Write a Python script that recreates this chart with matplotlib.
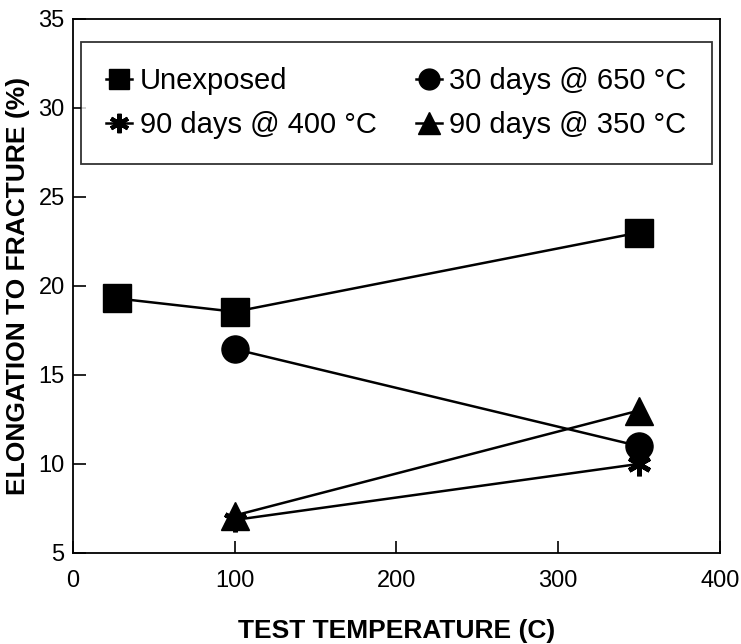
import matplotlib.pyplot as plt
from matplotlib.lines import Line2D

plt.rcParams['font.family'] = ['Liberation Sans', 'DejaVu Sans']

# data
temp_unexp = [27, 100, 350]
elong_unexp = [19.3, 18.55, 23.0]
temp_650 = [100, 350]
elong_650 = [16.45, 11.0]
temp_400 = [100, 350]
elong_400 = [6.85, 10.0]
temp_350 = [100, 350]
elong_350 = [7.1, 13.0]

x_ticks = [0, 100, 200, 300, 400]
y_ticks = [5, 10, 15, 20, 25, 30, 35]

labels = ['Unexposed', '30 days @ 650 °C', '90 days @ 400 °C', '90 days @ 350 °C']
star = (6, 2, 0)

fig = plt.figure(figsize=(7.41, 6.44), dpi=100)
ax = fig.add_axes([0.0985, 0.1415, 0.873, 0.829])

ax.plot(temp_unexp, elong_unexp, color='black', lw=1.8, marker='s', ms=19.5)
ax.plot(temp_650, elong_650, color='black', lw=1.8, marker='o', ms=19.5)
ax.plot(temp_400, elong_400, color='black', lw=1.8, marker=star, ms=17, mew=3.5)
ax.plot(temp_350, elong_350, color='black', lw=1.8, marker='^', ms=20)

ax.set_xlim(0, 400)
ax.set_ylim(5, 35)
ax.set_xticks(x_ticks)
ax.set_yticks(y_ticks)
ax.tick_params(direction='in', length=9, width=1.2, labelsize=17)
ax.tick_params(axis='x', pad=12)
ax.tick_params(axis='y', pad=6)
for s in ax.spines.values():
    s.set_linewidth(1.3)

ax.set_xlabel('TEST TEMPERATURE (C)', fontsize=19, fontweight='bold', labelpad=20)
ax.set_ylabel('ELONGATION TO FRACTURE (%)', fontsize=19, fontweight='bold', labelpad=6)

# legend proxies (smaller markers than the plot)
h1 = Line2D([], [], color='black', lw=1.8, marker='s', ms=15)
h2 = Line2D([], [], color='black', lw=1.8, marker='o', ms=15)
h3 = Line2D([], [], color='black', lw=1.8, marker=star, ms=14, mew=3)
h4 = Line2D([], [], color='black', lw=1.8, marker='^', ms=16)

leg = ax.legend(handles=[h1, h3, h2, h4],
                labels=[labels[0], labels[2], labels[1], labels[3]],
                ncol=2, loc='upper center', bbox_to_anchor=(0.5, 0.957),
                fontsize=21, frameon=True, fancybox=False, edgecolor='black',
                handlelength=0.9, handletextpad=0.25, columnspacing=1.35,
                labelspacing=0.55, borderpad=0.85, borderaxespad=0)
leg.get_frame().set_linewidth(1.3)

fig.savefig('out.png', dpi=100)
